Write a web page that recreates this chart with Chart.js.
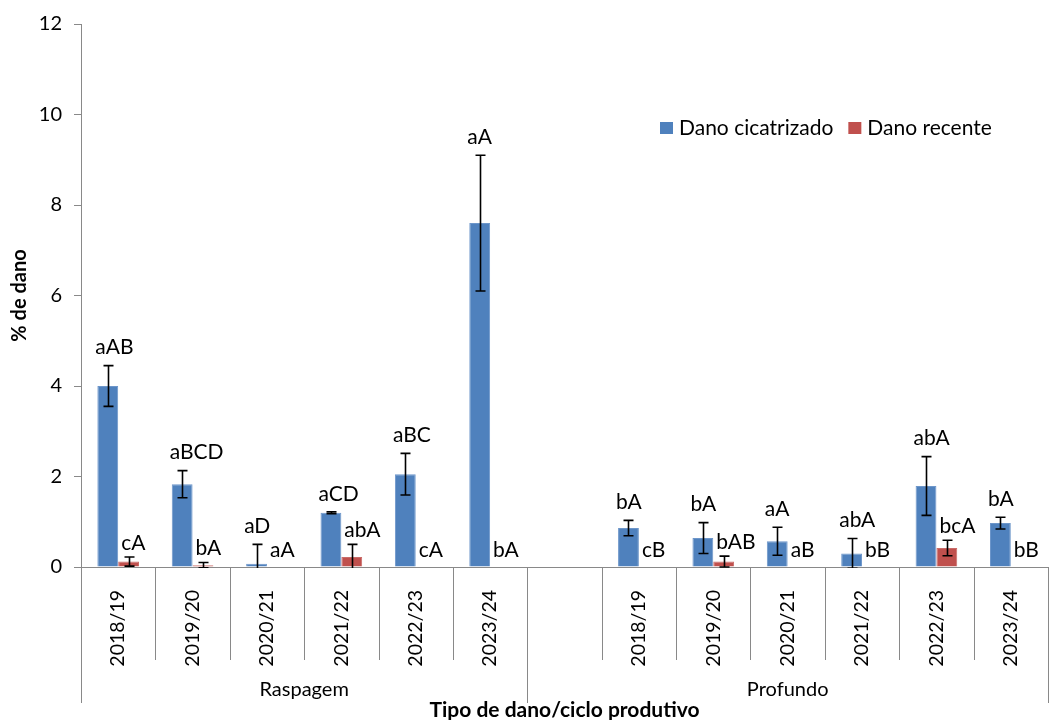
<!DOCTYPE html>
<html>
<head>
<meta charset="utf-8">
<script src="https://cdn.jsdelivr.net/npm/chart.js@4.4.0/dist/chart.umd.min.js"></script>
<style>
  html, body { margin: 0; padding: 0; background: #fff; }
  #wrap { width: 1050px; height: 720px; }
</style>
</head>
<body>
<div id="wrap"><canvas id="chart"></canvas></div>
<script>
// ciclos produtivos; a 7a posicao fica vazia para separar os dois tipos de dano
const ciclos = ['2018/19', '2019/20', '2020/21', '2021/22', '2022/23', '2023/24', '',
                '2018/19', '2019/20', '2020/21', '2021/22', '2022/23', '2023/24'];
const grupos = ['Raspagem', 'Profundo'];
const grupoInicio = [0, 6];
const grupoFim = [6, 13];

const cicatrizado = [4.0, 1.83, 0.07, 1.2, 2.05, 7.6, null, 0.86, 0.64, 0.57, 0.3, 1.79, 0.97];
const cicatrizadoErro = [0.45, 0.3, 0.43, 0.02, 0.46, 1.5, null, 0.17, 0.34, 0.31, 0.33, 0.65, 0.13];
const recente = [0.12, 0.04, 0, 0.22, 0, 0, null, 0, 0.12, 0, 0, 0.42, 0];
const recenteErro = [0.1, 0.06, 0, 0.28, 0, 0, null, 0, 0.12, 0, 0, 0.17, 0];

const letrasCicatrizado = ['aAB', 'aBCD', 'aD', 'aCD', 'aBC', 'aA', '', 'bA', 'bA', 'aA', 'abA', 'abA', 'bA'];
const letrasRecente = ['cA', 'bA', 'aA', 'abA', 'cA', 'bA', '', 'cB', 'bAB', 'aB', 'bB', 'bcA', 'bB'];

const yTicks = [0, 2, 4, 6, 8, 10, 12];

const FONT = 'Lato, "Open Sans", sans-serif';
const GRAY = '#898989';
const erros = [cicatrizadoErro, recenteErro];
const letras = [letrasCicatrizado, letrasRecente];

// barras de erro, letras, divisorias do eixo x e legenda
const extras = {
    id: 'extras',
    afterDatasetsDraw(chart) {
        const ctx = chart.ctx;
        const area = chart.chartArea;
        const y = chart.scales.y;

        ctx.save();
        ctx.beginPath();
        ctx.rect(area.left, area.top, area.right - area.left, area.bottom - area.top + 1);
        ctx.clip();
        ctx.strokeStyle = '#000';
        ctx.lineWidth = 1.6;
        chart.data.datasets.forEach((ds, i) => {
            const meta = chart.getDatasetMeta(i);
            meta.data.forEach((bar, j) => {
                const v = ds.data[j];
                const e = erros[i][j];
                if (v === null || !e) return;
                const x = Math.round(bar.x) + 0.5;
                const top = y.getPixelForValue(v + e);
                const bot = y.getPixelForValue(v - e);
                ctx.beginPath();
                ctx.moveTo(x, top);
                ctx.lineTo(x, bot);
                ctx.moveTo(x - 5, top);
                ctx.lineTo(x + 5, top);
                ctx.moveTo(x - 5, bot);
                ctx.lineTo(x + 5, bot);
                ctx.stroke();
            });
        });
        ctx.restore();

        ctx.save();
        ctx.fillStyle = '#000';
        ctx.font = '21px ' + FONT;
        ctx.textAlign = 'left';
        ctx.textBaseline = 'middle';
        chart.data.datasets.forEach((ds, i) => {
            const meta = chart.getDatasetMeta(i);
            meta.data.forEach((bar, j) => {
                const v = ds.data[j];
                if (v === null) return;
                const top = y.getPixelForValue(v + (erros[i][j] || 0));
                const left = bar.x - bar.width / 2;
                if (i === 0) {
                    ctx.fillText(letras[i][j], left - 2, top - 18);
                } else {
                    ctx.fillText(letras[i][j], left + 3, Math.min(top - 14, area.bottom - 17));
                }
            });
        });
        ctx.restore();
    },
    afterDraw(chart) {
        const ctx = chart.ctx;
        const area = chart.chartArea;
        const x = chart.scales.x;
        const n = chart.data.labels.length;
        const w = (x.right - x.left) / n;

        ctx.save();
        ctx.strokeStyle = GRAY;
        ctx.lineWidth = 1;
        for (let k = 0; k <= n; k++) {
            const px = Math.round(x.left + k * w) + 0.5;
            const longo = grupoInicio.includes(k) || grupoFim.includes(k);
            ctx.beginPath();
            ctx.moveTo(px, area.bottom);
            ctx.lineTo(px, area.bottom + (longo ? 136 : 93));
            ctx.stroke();
        }
        ctx.fillStyle = '#000';
        ctx.font = '20px ' + FONT;
        ctx.textAlign = 'center';
        ctx.textBaseline = 'middle';
        grupos.forEach((g, i) => {
            const cx = x.left + (grupoInicio[i] + grupoFim[i]) / 2 * w;
            ctx.fillText(g, cx, area.bottom + 123);
        });

        // legenda
        const series = chart.data.datasets;
        let lx = 660;
        const ly = 128;
        ctx.font = '21px ' + FONT;
        ctx.textAlign = 'left';
        series.forEach(ds => {
            ctx.fillStyle = ds.backgroundColor;
            ctx.fillRect(lx, ly - 6, 13, 12);
            ctx.fillStyle = '#000';
            ctx.fillText(ds.label, lx + 19, ly);
            lx += 19 + ctx.measureText(ds.label).width + 15;
        });
        ctx.restore();
    }
};

new Chart(document.getElementById('chart'), {
    type: 'bar',
    data: {
        labels: ciclos,
        datasets: [
            {
                label: 'Dano cicatrizado',
                data: cicatrizado,
                backgroundColor: '#4F81BD',
                borderColor: '#6D96CA',
                borderWidth: 1
            },
            {
                label: 'Dano recente',
                data: recente,
                backgroundColor: '#C0504D',
                borderColor: '#C96B68',
                borderWidth: 1
            }
        ]
    },
    options: {
        responsive: true,
        maintainAspectRatio: false,
        animation: false,
        datasets: {
            bar: { categoryPercentage: 0.56, barPercentage: 1 }
        },
        layout: { padding: { top: 24, right: 2, bottom: 0, left: 0 } },
        plugins: {
            legend: { display: false },
            tooltip: { enabled: false }
        },
        scales: {
            x: {
                grid: { display: false },
                border: { display: true, color: GRAY, width: 1 },
                ticks: {
                    autoSkip: false,
                    minRotation: 90,
                    maxRotation: 90,
                    padding: 15,
                    color: '#000',
                    font: { family: FONT, size: 19.5 }
                },
                title: {
                    display: true,
                    text: 'Tipo de dano/ciclo produtivo',
                    color: '#000',
                    font: { family: FONT, size: 21, weight: 'bold', lineHeight: 1 },
                    padding: { top: 0, bottom: -1 }
                },
                afterFit(scale) { scale.height = 153; }
            },
            y: {
                min: 0,
                max: 12,
                afterBuildTicks(scale) { scale.ticks = yTicks.map(v => ({ value: v })); },
                grid: { drawOnChartArea: false, drawTicks: true, tickLength: 7, color: GRAY },
                border: { display: true, color: GRAY, width: 1 },
                ticks: {
                    padding: 12,
                    color: '#000',
                    font: { family: FONT, size: 20 }
                },
                title: {
                    display: true,
                    text: '% de dano',
                    color: '#000',
                    font: { family: FONT, size: 20, weight: 'bold' },
                    padding: { top: 8, bottom: 0 }
                },
                afterFit(scale) { scale.width = 81; }
            }
        }
    },
    plugins: [extras]
});
</script>
</body>
</html>
